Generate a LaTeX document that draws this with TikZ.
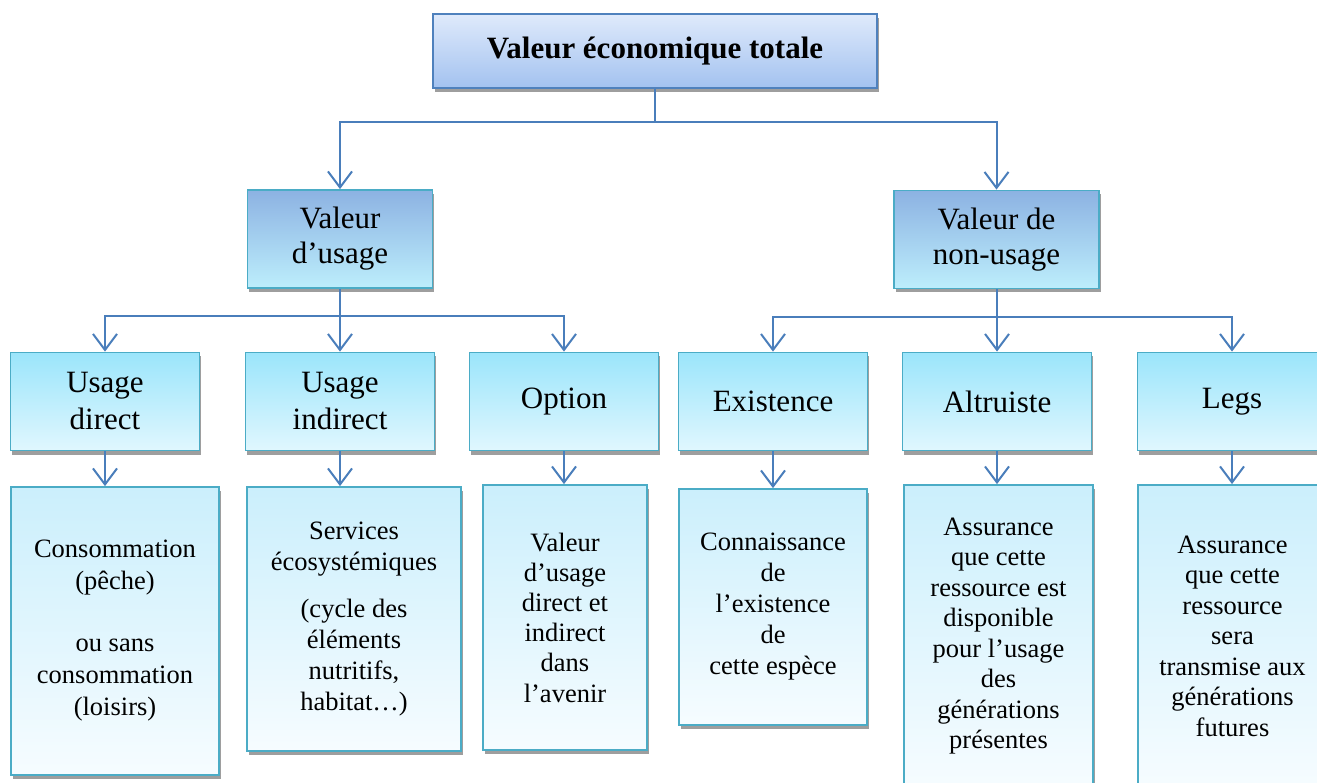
\documentclass[tikz,border=0pt]{standalone}
\usepackage{fontspec}
\setmainfont{Liberation Serif}
\usetikzlibrary{arrows.meta,shadows}
\definecolor{arrowblue}{HTML}{4A7EBB}
\definecolor{topborder}{HTML}{4F81BD}
\definecolor{tealborder}{HTML}{4BACC6}
\definecolor{topT}{HTML}{DFEAFB}
\definecolor{topB}{HTML}{A3C2F0}
\definecolor{twoT}{HTML}{8CB2E2}
\definecolor{twoB}{HTML}{BDEEFC}
\definecolor{thrT}{HTML}{9BE5FB}
\definecolor{thrB}{HTML}{E0F7FE}
\definecolor{fouT}{HTML}{CBEFFC}
\definecolor{fouB}{HTML}{F6FCFF}
\begin{document}
\begin{tikzpicture}[x=1pt,y=-1pt,
  conn/.style={draw=arrowblue, line width=2pt},
  arr/.style={conn, -{Straight Barb[length=16pt,width=24pt,line width=2pt]}},
  shadowed/.style={drop shadow={shadow xshift=1.5pt, shadow yshift=-4pt, fill=black!38, opacity=1}},
  basebox/.style={rectangle, inner sep=0pt, align=center, shadowed},
  topbox/.style={basebox, draw=topborder, line width=2pt, top color=topT, bottom color=topB,
    font=\bfseries\fontsize{31}{36}\selectfont},
  twobox/.style={basebox, draw=tealborder, line width=1.8pt, top color=twoT, bottom color=twoB,
    minimum height=98pt, font=\fontsize{31}{35}\selectfont},
  thrbox/.style={basebox, draw=tealborder, line width=1.8pt, top color=thrT, bottom color=thrB,
    minimum width=189pt, minimum height=98pt, font=\fontsize{31}{37}\selectfont},
  foubox/.style={basebox, draw=tealborder, line width=1.8pt, top color=fouT, bottom color=fouB,
    font=\fontsize{26.5}{31}\selectfont}
]
\useasboundingbox (0,0) rectangle (1317,783);

% level 1
\node[topbox, minimum width=444pt, minimum height=74pt] (top) at (655,51) {Valeur économique totale};

% level 2
\node[twobox, minimum width=185pt] (vu) at (340,239) {Valeur\\d’usage};
\node[twobox, minimum width=205pt] (vnu) at (996.5,239.5) {Valeur de\\non-usage};

% level 3
\node[thrbox] (ud) at (105,401.5) {Usage\\direct};
\node[thrbox] (ui) at (340,401.5) {Usage\\indirect};
\node[thrbox] (op) at (564,401.5) {Option};
\node[thrbox] (ex) at (773,401.5) {Existence};
\node[thrbox] (al) at (997,401.5) {Altruiste};
\node[thrbox] (lg) at (1232,401.5) {Legs};

% level 4
\node[foubox, minimum width=208pt, minimum height=288pt, font=\fontsize{26.5}{32}\selectfont] (c1) at (115,631)
  {Consommation\\(pêche)\\[30pt]ou sans\\consommation\\(loisirs)};
\node[foubox, minimum width=214pt, minimum height=264pt] (c2) at (354,619)
  {Services\\écosystémiques\\[16pt](cycle des\\éléments\\nutritifs,\\habitat…)};
\node[foubox, minimum width=164pt, minimum height=265pt, font=\fontsize{26.5}{30.2}\selectfont] (c3) at (565,617.5)
  {Valeur\\d’usage\\direct et\\indirect\\dans\\l’avenir};
\node[foubox, minimum width=188pt, minimum height=236pt] (c4) at (773,607)
  {Connaissance\\de\\l’existence\\de\\cette espèce};
\node[foubox, minimum width=189pt, minimum height=302pt, font=\fontsize{26.5}{30.5}\selectfont] (c5) at (998.5,636)
  {Assurance\\que cette\\ressource est\\disponible\\pour l’usage\\des\\générations\\présentes};
\node[foubox, minimum width=189pt, minimum height=302pt, font=\fontsize{26.5}{30.5}\selectfont] (c6) at (1232.5,636)
  {Assurance\\que cette\\ressource\\sera\\transmise aux\\générations\\futures};

% connectors level 1 -> 2
\coordinate (j0) at (655,122);
\draw[conn] (top.south) -- (j0);
\draw[arr] (j0) -| (vu.north);
\draw[arr] (j0) -| (vnu.north);

% level 2 -> 3
\coordinate (j1) at (340,316);
\draw[conn] (vu.south) -- (j1);
\draw[arr] (j1) -| (ud.north);
\draw[arr] (j1) -- (ui.north);
\draw[arr] (j1) -| (op.north);

\coordinate (j2) at (997,317);
\draw[conn] (vnu.south -| j2) -- (j2);
\draw[arr] (j2) -| (ex.north);
\draw[arr] (j2) -- (al.north);
\draw[arr] (j2) -| (lg.north);

% level 3 -> 4
\draw[arr] (ud.south) -- (ud.south |- c1.north);
\draw[arr] (ui.south) -- (ui.south |- c2.north);
\draw[arr] (op.south) -- (op.south |- c3.north);
\draw[arr] (ex.south) -- (ex.south |- c4.north);
\draw[arr] (al.south) -- (al.south |- c5.north);
\draw[arr] (lg.south) -- (lg.south |- c6.north);
\end{tikzpicture}
\end{document}
